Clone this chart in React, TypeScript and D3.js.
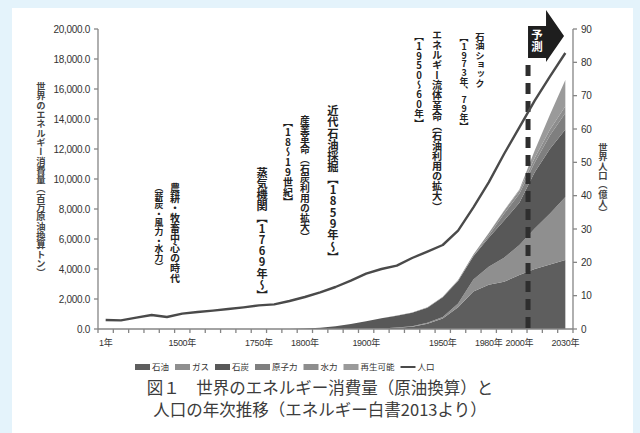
import React from "react";
import * as d3 from "d3";

// ---------- data ----------
const categories = [
  "1年", "1000年", "1200年", "1300年", "1400年", "1500年", "1600年", "1650年", "1700年", "1725年",
  "1750年", "1775年", "1790年", "1800年", "1825年", "1850年", "1875年", "1900年", "1910年", "1920年",
  "1930年", "1940年", "1950年", "1960年", "1970年", "1980年", "1990年", "2000年", "2010年", "2020年", "2030年",
];
const shownLabels = ["1年", "1500年", "1750年", "1800年", "1900年", "1950年", "1980年", "2000年", "2030年"];

// world population (億人)
const population = [
  2.7, 2.6, 3.4, 4.2, 3.6, 4.6, 5.1, 5.5, 6.0, 6.5,
  7.1, 7.4, 8.4, 9.6, 11.0, 12.6, 14.5, 16.6, 18.0, 19.0,
  21.3, 23.2, 25.2, 29.5, 36.5, 44.0, 52.5, 60.5, 68.5, 75.8, 82.8,
];

// energy consumption (百万石油換算トン)
const oil = [
  0, 0, 0, 0, 0, 0, 0, 0, 0, 0,
  0, 0, 0, 0, 0, 0, 0, 10, 40, 80,
  150, 350, 700, 1450, 2500, 2950, 3150, 3600, 4000, 4300, 4600,
];
const gas = [
  0, 0, 0, 0, 0, 0, 0, 0, 0, 0,
  0, 0, 0, 0, 0, 0, 0, 0, 0, 20,
  40, 60, 100, 250, 800, 1200, 1600, 2000, 2700, 3400, 4200,
];
const coal = [
  0, 0, 0, 0, 0, 0, 0, 0, 0, 0,
  0, 0, 0, 30, 80, 180, 330, 510, 670, 785,
  890, 1010, 1310, 1500, 1550, 1930, 2480, 2820, 3750, 4320, 4500,
];
const nuclear = [
  0, 0, 0, 0, 0, 0, 0, 0, 0, 0,
  0, 0, 0, 0, 0, 0, 0, 0, 0, 0,
  0, 0, 0, 0, 20, 150, 450, 600, 650, 900, 1100,
];
const hydro = [
  0, 0, 0, 0, 0, 0, 0, 0, 0, 0,
  0, 0, 0, 0, 0, 0, 0, 0, 10, 15,
  20, 30, 40, 60, 100, 150, 180, 220, 300, 380, 450,
];
const renewables = [
  0, 0, 0, 0, 0, 0, 0, 0, 0, 0,
  0, 0, 0, 0, 0, 0, 0, 0, 0, 0,
  0, 0, 0, 0, 0, 20, 40, 60, 500, 1000, 1750,
];

const seriesNames = ["石油", "ガス", "石炭", "原子力", "水力", "再生可能"];
const seriesValues = [oil, gas, coal, nuclear, hydro, renewables];
const populationName = "人口";
const forecastStart = "2010年";

const leftTicks = [0, 2000, 4000, 6000, 8000, 10000, 12000, 14000, 16000, 18000, 20000];
const rightTicks = [0, 10, 20, 30, 40, 50, 60, 70, 80, 90];

const leftTitle = "世界のエネルギー消費量（百万原油換算トン）";
const rightTitle = "世界人口（億人）";
const forecastLabel = "予測";
const captionLines = ["図１　世界のエネルギー消費量（原油換算）と", "人口の年次推移（エネルギー白書2013より）"];

// ---------- styles / layout ----------
const seriesColors = ["#5e5e5e", "#8f8f8f", "#585858", "#7f7f7f", "#8d8d8d", "#9a9a9a"];
const lineColor = "#4a4a4a";
const jp = "'Noto Sans CJK JP', 'Noto Sans', sans-serif";
const num = "'Liberation Sans', 'Noto Sans CJK JP', sans-serif";

const annotations = [
  { text: "農耕・牧畜中心の時代", x: 175, y: 183, size: 10 },
  { text: "（薪炭・風力・水力）", x: 159, y: 183, size: 8.8 },
  { text: "蒸気機関【1769年〜】", x: 262, y: 167, size: 11.2 },
  { text: "産業革命（石炭利用の拡大）", x: 305, y: 115, size: 9.8 },
  { text: "【18〜19世紀】", x: 288, y: 117, size: 10 },
  { text: "近代石油採掘【1859年〜】", x: 333, y: 105, size: 11.3 },
  { text: "エネルギー流体革命（石油利用の拡大）", x: 437, y: 30, size: 10.1 },
  { text: "【1950〜60年】", x: 419, y: 32, size: 9.6 },
  { text: "石油ショック", x: 480, y: 32, size: 9.3 },
  { text: "【1973年、79年】", x: 464, y: 33, size: 8.9 },
];

export default function App() {
  const W = 640;
  const H = 433;
  const m = { left: 98, right: 573, top: 29, bottom: 329 };

  const x = d3.scaleBand<string>().domain(categories).range([m.left, m.right]).padding(0);
  const bw = x.bandwidth();
  const cx = (c: string) => (x(c) as number) + bw / 2;
  const yL = d3.scaleLinear().domain([0, 20000]).range([m.bottom, m.top]);
  const yR = d3.scaleLinear().domain([0, 90]).range([m.bottom, m.top]);

  const table = categories.map((c, i) => {
    const row: any = { cat: c };
    seriesNames.forEach((s, k) => (row[s] = seriesValues[k][i]));
    return row;
  });
  const stacked = d3.stack<any>().keys(seriesNames)(table);
  const area = d3
    .area<any>()
    .x((d) => cx(d.data.cat))
    .y0((d) => yL(d[0]))
    .y1((d) => yL(d[1]));
  const line = d3
    .line<number>()
    .x((_, i) => cx(categories[i]))
    .y((d) => yR(d));

  const boundaries = d3.range(categories.length + 1).map((k) => m.left + k * bw);
  const fx = x(forecastStart) as number;

  // legend layout
  const legendY = 367;
  const legendFont = 8.5;
  const sw = 15;
  const legendItems = [
    ...seriesNames.map((s, i) => ({ name: s, color: seriesColors[i], kind: "rect" })),
    { name: populationName, color: lineColor, kind: "line" },
  ];
  let lx = 135;
  const legendPos = legendItems.map((it) => {
    const p = lx;
    lx += sw + 2 + it.name.length * legendFont + 6;
    return p;
  });

  return (
    <svg
      width={W}
      height={H}
      viewBox={`0 0 ${W} ${H}`}
      style={{ position: "absolute", left: 0, top: 0, display: "block" }}
    >
      <rect x={0} y={0} width={W} height={H} fill="#e4f3fb" />
      <rect x={12} y={8} width={621} height={425} fill="#ffffff" />

      {/* stacked areas */}
      {stacked.map((s, i) => (
        <path key={s.key} d={area(s) as string} fill={seriesColors[i]} stroke="none" />
      ))}

      {/* forecast dashed line */}
      <line x1={fx + 1} x2={fx + 1} y1={65} y2={m.bottom} stroke="#2e2e2e" strokeWidth={5} strokeDasharray="11 7" />

      {/* population line */}
      <path d={line(population) as string} fill="none" stroke={lineColor} strokeWidth={2.4} strokeLinejoin="round" />

      {/* forecast arrow */}
      <polygon
        points={[
          [fx + 1, 26], [fx + 19, 26], [fx + 19, 10], [fx + 37, 36], [fx + 19, 62], [fx + 19, 58], [fx + 1, 58],
        ].map((p) => p.join(",")).join(" ")}
        fill="#1e1e1e"
      />
      <text
        x={fx + 10}
        y={29}
        fill="#ffffff"
        fontFamily={jp}
        fontWeight={700}
        fontSize={11.5}
        style={{ writingMode: "vertical-rl", textOrientation: "upright" } as any}
      >
        {forecastLabel}
      </text>

      {/* axes */}
      <g stroke="#858585" strokeWidth={1.3} fill="none">
        <line x1={m.left} x2={m.left} y1={m.top} y2={m.bottom} />
        <line x1={m.right} x2={m.right} y1={m.top} y2={m.bottom} />
        <line x1={m.left} x2={m.right} y1={m.bottom} y2={m.bottom} />
        {leftTicks.map((t) => (
          <line key={"l" + t} x1={m.left - 4} x2={m.left} y1={yL(t)} y2={yL(t)} />
        ))}
        {rightTicks.map((t) => (
          <line key={"r" + t} x1={m.right} x2={m.right + 4} y1={yR(t)} y2={yR(t)} />
        ))}
        {boundaries.map((b, k) => (
          <line key={"b" + k} x1={b} x2={b} y1={m.bottom} y2={m.bottom + 4} />
        ))}
      </g>

      <g fontFamily={num} fontSize={10} fill="#333" letterSpacing={-0.3}>
        {leftTicks.map((t) => (
          <text key={"lt" + t} x={m.left - 8} y={yL(t) + 3.5} textAnchor="end">
            {d3.format(",.1f")(t)}
          </text>
        ))}
        {rightTicks.map((t) => (
          <text key={"rt" + t} x={m.right + 8} y={yR(t) + 3.5} textAnchor="start">
            {t}
          </text>
        ))}
      </g>
      <g fontFamily={num} fontSize={9} fill="#333" letterSpacing={-0.3}>
        {shownLabels.map((c) => (
          <text key={"x" + c} x={cx(c)} y={m.bottom + 17} textAnchor="middle">
            {c}
          </text>
        ))}
      </g>

      {/* axis titles */}
      <text
        x={41}
        y={82}
        fontFamily={jp}
        fontWeight={700}
        fontSize={9.3}
        fill="#444"
        style={{ writingMode: "vertical-rl" } as any}
      >
        {leftTitle}
      </text>
      <text
        x={603}
        y={143}
        fontFamily={jp}
        fontWeight={700}
        fontSize={9.3}
        fill="#444"
        style={{ writingMode: "vertical-rl" } as any}
      >
        {rightTitle}
      </text>

      {/* annotations */}
      {annotations.map((a, i) => (
        <text
          key={"a" + i}
          x={a.x}
          y={a.y}
          fontFamily={jp}
          fontWeight={700}
          fontSize={a.size}
          fill="#222"
          style={{ writingMode: "vertical-rl", textOrientation: "upright" } as any}
        >
          {a.text}
        </text>
      ))}

      {/* legend */}
      {legendItems.map((it, i) => (
        <g key={"lg" + i} transform={`translate(${legendPos[i]},${legendY})`}>
          {it.kind === "rect" ? (
            <rect x={0} y={-3} width={sw} height={6} fill={it.color} />
          ) : (
            <line x1={0} x2={sw} y1={0} y2={0} stroke={it.color} strokeWidth={2} />
          )}
          <text x={sw + 2} y={3.2} fontFamily={jp} fontSize={legendFont} fill="#333">
            {it.name}
          </text>
        </g>
      ))}

      {/* caption */}
      {captionLines.map((l, i) => (
        <text
          key={"c" + i}
          x={320}
          y={394 + i * 22}
          textAnchor="middle"
          fontFamily={jp}
          fontSize={16.5}
          fill="#3c3c3c"
        >
          {l}
        </text>
      ))}
    </svg>
  );
}
